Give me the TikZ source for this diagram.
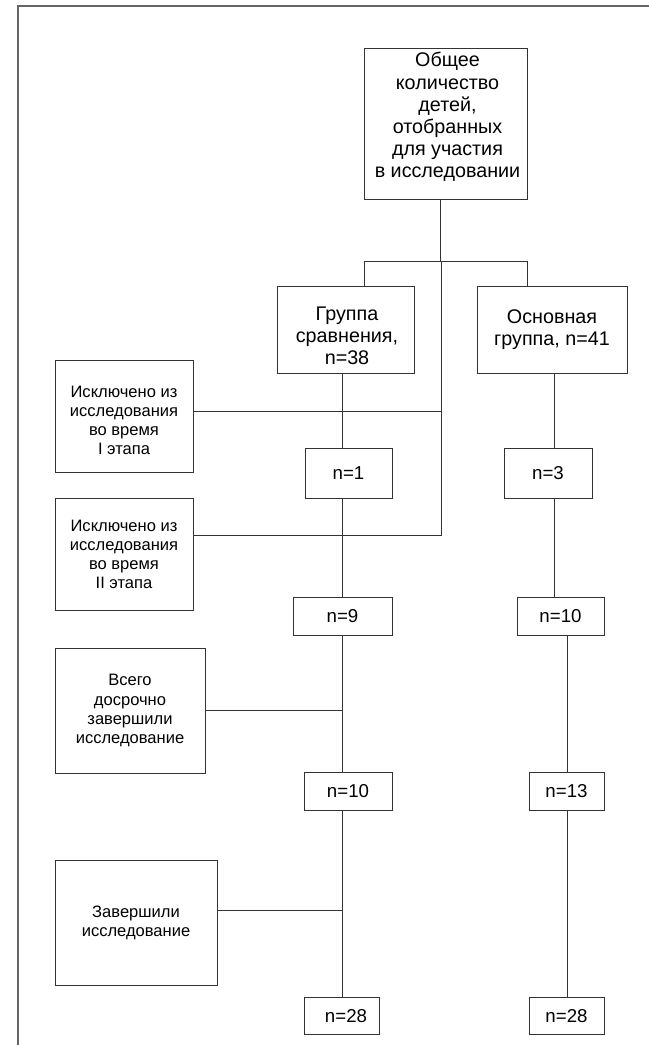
\documentclass[tikz,border=0pt]{standalone}
\usepackage{fontspec}
\setmainfont{Liberation Sans}
\begin{document}
\begin{tikzpicture}[x=0.75pt,y=-0.75pt,
  box/.style={draw=black!80, line width=0.75pt, inner sep=0pt, align=center},
  txt/.style={inner sep=0pt, align=center},
  bigtext/.style={font=\fontsize{14.8}{16.6}\selectfont},
  smalltext/.style={font=\fontsize{12.4}{14.3}\selectfont},
  ntext/.style={font=\fontsize{14}{16}\selectfont},
  link/.style={draw=black!80, line width=0.75pt},
  frame/.style={draw=black!60, line width=1pt}]
\useasboundingbox (0,0) rectangle (649,1045);
% frame
\coordinate (fb) at (18,1045);
\coordinate (fc) at (18,6);
\coordinate (fr) at (649,6);
\draw[frame] (fb) -- (fc) -- (fr);
% boxes
\node[box,minimum width=122.25pt,minimum height=112.5pt] (top) at (445.5,124) {};
\node[txt,bigtext] (topT) at (447.5,117)
  {Общее\\количество\\детей,\\отобранных\\для участия\\в исследовании};
\node[box,minimum width=102.75pt,minimum height=65.25pt] (grp) at (345.5,329.5) {};
\node[txt,bigtext] (grpT) at (347,335.5) {Группа\\сравнения,\\n=38};
\node[box,bigtext,minimum width=112.5pt,minimum height=65.25pt] (osn) at (552,329.5)
  {Основная\\группа, n=41};
\node[box,minimum width=103.5pt,minimum height=84pt] (ex1) at (124,416) {};
\node[txt,smalltext] (ex1T) at (124,420.5)
  {Исключено из\\исследования\\во время\\I этапа};
\node[box,smalltext,minimum width=103.5pt,minimum height=84pt] (ex2) at (124,554)
  {Исключено из\\исследования\\во время\\II этапа};
\node[box,smalltext,minimum width=112.5pt,minimum height=93.75pt] (vse) at (130,710.5)
  {Всего\\досрочно\\завершили\\исследование};
\node[box,smalltext,minimum width=121.5pt,minimum height=93.75pt] (zav) at (136,922.5)
  {Завершили\\исследование};
\node[box,ntext,minimum width=65.25pt,minimum height=37.5pt] (n1) at (348.5,473) {n=1};
\node[box,ntext,minimum width=66pt,minimum height=37.5pt] (n3) at (548,473) {n=3};
\node[box,ntext,minimum width=74.25pt,minimum height=28.5pt] (n9) at (342.5,616.5) {n=9};
\node[box,ntext,minimum width=65.25pt,minimum height=28.5pt] (n10r) at (560.5,616.5) {n=10};
\node[box,ntext,minimum width=66pt,minimum height=28.5pt] (n10l) at (348,791.5) {n=10};
\node[box,ntext,minimum width=56.25pt,minimum height=28.5pt] (n13) at (566.5,791.5) {n=13};
\node[box,ntext,minimum width=56.25pt,minimum height=28pt] (n28l) at (342,1016) {\hspace*{6pt}n=28};
\node[box,ntext,minimum width=56.25pt,minimum height=28pt] (n28r) at (566.5,1016) {n=28};
% coordinates for connector lines
\coordinate (j) at (440,261);
\coordinate (bl) at (364.3,261);
\coordinate (br) at (527,261);
\coordinate (m) at (441.5,261);
\coordinate (m1) at (441.5,411);
\coordinate (m2) at (441.5,535);
\coordinate (cL) at (342.3,0);
\coordinate (cR) at (554.3,0);
\coordinate (cR2) at (567,0);
\coordinate (z1) at (342.3,910);
% connectors
\draw[link] (top.south -| j) -- (j);
\draw[link] (grp.north -| bl) -- (bl) -- (br) -- (osn.north -| br);
\draw[link] (m) -- (m2);
\draw[link] (ex1.east |- m1) -- (m1);
\draw[link] (ex2.east |- m2) -- (m2);
\draw[link] (vse.east) -- (vse.east -| cL);
\draw[link] (zav.east |- z1) -- (z1);
\draw[link] (grp.south -| cL) -- (n1.north -| cL);
\draw[link] (n1.south -| cL) -- (n9.north -| cL);
\draw[link] (n9.south -| cL) -- (n10l.north -| cL);
\draw[link] (n10l.south -| cL) -- (n28l.north -| cL);
\draw[link] (osn.south -| cR) -- (n3.north -| cR);
\draw[link] (n3.south -| cR) -- (n10r.north -| cR);
\draw[link] (n10r.south -| cR2) -- (n13.north -| cR2);
\draw[link] (n13.south -| cR2) -- (n28r.north -| cR2);
\end{tikzpicture}
\end{document}
